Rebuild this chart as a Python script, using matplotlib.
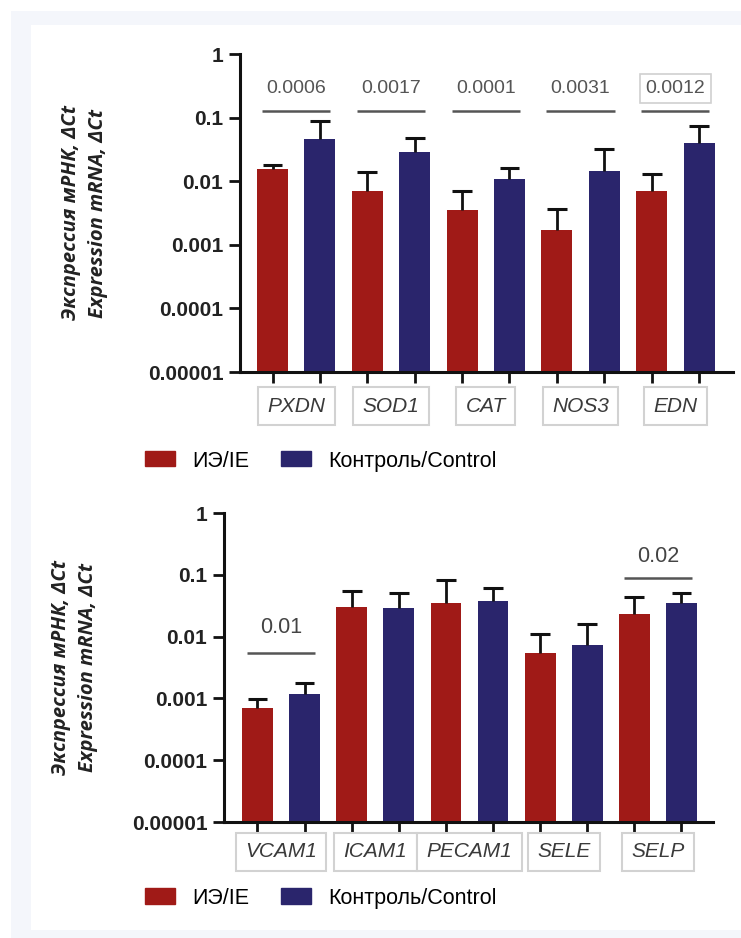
import numpy as np
import matplotlib
matplotlib.use("Agg")
import matplotlib.pyplot as plt
import matplotlib.patches as mpatches
import matplotlib.transforms as mtrans
from matplotlib.ticker import FixedLocator, NullLocator

# ---- data ----
genes_top = ["PXDN", "SOD1", "CAT", "NOS3", "EDN"]
ie_top = [0.0154, 0.0070, 0.0035, 0.0017, 0.0070]
ie_top_err = [0.0178, 0.0141, 0.0070, 0.0037, 0.0128]      # top of error bar
ctrl_top = [0.0456, 0.0285, 0.0107, 0.0145, 0.0394]
ctrl_top_err = [0.0894, 0.0472, 0.0160, 0.0321, 0.0738]
pvals_top = ["0.0006", "0.0017", "0.0001", "0.0031", "0.0012"]

genes_bot = ["VCAM1", "ICAM1", "PECAM1", "SELE", "SELP"]
ie_bot = [0.00069, 0.0298, 0.0346, 0.0054, 0.0232]
ie_bot_err = [0.00098, 0.0553, 0.0824, 0.0110, 0.0442]
ctrl_bot = [0.00116, 0.0293, 0.0373, 0.0073, 0.0346]
ctrl_bot_err = [0.0018, 0.0502, 0.0604, 0.0160, 0.0513]
pvals_bot = ["0.01", "", "", "", "0.02"]

yticks = [1, 0.1, 0.01, 0.001, 0.0001, 0.00001]
ytick_labels = ["1", "0.1", "0.01", "0.001", "0.0001", "0.00001"]
legend_labels = ["ИЭ/IE", "Контроль/Control"]
ylabel = "Экспрессия мРНК, ΔCt\nExpression mRNA, ΔCt"

# where the p-value brackets sit (line y, text y), layout only
sig_top = [(0.127, 0.29)] * 5
sig_bot = [(0.0054, 0.0143), None, None, None, (0.089, 0.20)]

RED = "#a01a17"
BLUE = "#2a256c"
W, H = 741, 938


def fig_rect(x0, y0, x1, y1):
    # pixel box (top-left origin) -> figure fraction
    return [x0 / W, 1 - y1 / H, (x1 - x0) / W, (y1 - y0) / H]


fig = plt.figure(figsize=(W / 100, H / 100), dpi=100, facecolor="white")
fig.patches.append(mpatches.Rectangle((11 / W, 0), 730 / W, 927 / H, transform=fig.transFigure,
                                      facecolor="#f4f6fb", edgecolor="none", zorder=-10))
fig.patches.append(mpatches.Rectangle((31 / W, 8 / H), 710 / W, 905 / H, transform=fig.transFigure,
                                      facecolor="white", edgecolor="none", zorder=-9))


def panel(rect, xlim, genes, ie, ie_err, ctrl, ctrl_err, pvals, sig_pos, p_size, p_col, lab_off, box_p, ylab_x):
    ax = fig.add_axes(rect)
    ax.set_facecolor("none")
    n = len(genes)
    x_ie = np.arange(n) * 2
    x_ct = x_ie + 1
    ax.bar(x_ie, ie, width=0.655, color=RED, zorder=2)
    ax.bar(x_ct, ctrl, width=0.655, color=BLUE, zorder=2)
    # upper-only error bars
    for xs, lo, hi in ((x_ie, ie, ie_err), (x_ct, ctrl, ctrl_err)):
        ax.vlines(xs, lo, hi, color="#111111", lw=2, zorder=3)
        ax.hlines(hi, xs - 0.21, xs + 0.21, color="#111111", lw=2.2, zorder=3)
    ax.set_yscale("log")
    ax.set_ylim(1e-5, 1)
    ax.set_xlim(*xlim)
    ax.yaxis.set_major_locator(FixedLocator(yticks))
    ax.set_yticklabels(ytick_labels, fontfamily="Liberation Sans", fontweight="bold", fontsize=15, color="#222222")
    ax.yaxis.set_minor_locator(NullLocator())
    ax.set_xticks(np.arange(2 * n))
    ax.set_xticklabels([])
    ax.tick_params(axis="both", length=8, width=2, color="#111111", pad=4)
    for s in ["top", "right"]:
        ax.spines[s].set_visible(False)
    for s in ["left", "bottom"]:
        ax.spines[s].set_linewidth(2.2)
        ax.spines[s].set_color("#111111")
    ax.set_ylabel(ylabel, fontfamily="Open Sans", fontstyle="italic", fontweight="bold",
                  fontsize=14.5, color="#222222", linespacing=1.45)
    ax.yaxis.set_label_coords(ylab_x, 0.5)

    trans = mtrans.blended_transform_factory(ax.transData, ax.transAxes)
    for i, g in enumerate(genes):
        c = 2 * i + 0.5
        ax.text(c, lab_off, g, transform=trans, ha="center", va="center", fontfamily="Liberation Sans",
                fontstyle="italic", fontsize=15, color="#3a3a3a",
                bbox=dict(boxstyle="square,pad=0.45", facecolor="white", edgecolor="#d2d2d2", linewidth=1.5))
        if pvals[i]:
            ly, ty = sig_pos[i]
            ax.plot([c - 0.72, c + 0.72], [ly, ly], color="#555555", lw=1.8, solid_capstyle="butt", clip_on=False)
            bb = None
            if i == box_p:
                bb = dict(boxstyle="square,pad=0.3", facecolor="white", edgecolor="#d0d0d0", linewidth=1.2)
            ax.text(c, ty, pvals[i], ha="center", va="center", fontfamily="Liberation Sans",
                    fontsize=p_size, color=p_col, bbox=bb, clip_on=False)
    return ax


ax1 = panel(fig_rect(240, 54, 733, 372), (-0.686, 9.717), genes_top, ie_top, ie_top_err,
            ctrl_top, ctrl_top_err, pvals_top, sig_top, 14, "#555555", -0.107, 4, -0.268)
ax2 = panel(fig_rect(224, 513, 713, 822), (-0.711, 9.669), genes_bot, ie_bot, ie_bot_err,
            ctrl_bot, ctrl_bot_err, pvals_bot, sig_bot, 15.5, "#444444", -0.097, -1, -0.258)

handles = [mpatches.Patch(color=RED), mpatches.Patch(color=BLUE)]
for yc in (461, 898):
    fig.legend(handles, legend_labels, loc="center left", bbox_to_anchor=(145 / W, 1 - yc / H),
               ncol=2, frameon=False, borderpad=0, borderaxespad=0, handlelength=1.4, handleheight=0.7,
               handletextpad=0.8, columnspacing=1.45,
               prop=dict(family="Liberation Sans", size=15.5))

plt.savefig("out.png", dpi=100, facecolor=fig.get_facecolor())
